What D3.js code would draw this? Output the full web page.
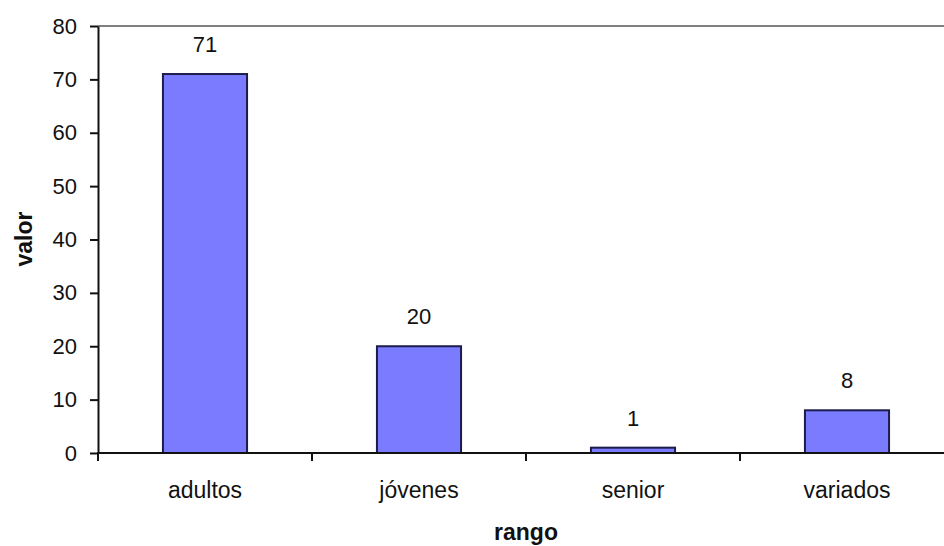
<!DOCTYPE html>
<html>
<head>
<meta charset="utf-8">
<script src="https://cdn.jsdelivr.net/npm/d3@7"></script>
<style>
  html, body { margin: 0; padding: 0; background: #fff; }
  svg { display: block; }
  text { font-family: "Liberation Sans", Arial, sans-serif; fill: #111; }
</style>
</head>
<body>
<svg id="chart" width="944" height="546"></svg>
<script>
const categories = ["adultos", "jóvenes", "senior", "variados"];
const values = [71, 20, 1, 8];
const yTicks = [0, 10, 20, 30, 40, 50, 60, 70, 80];
const xTitle = "rango";
const yTitle = "valor";

const svg = d3.select("#chart");
const mLeft = 98, mRight = 954, mTop = 26, mBottom = 453;

const x = d3.scaleBand().domain(categories).range([mLeft, mRight])
  .paddingInner(0.607).paddingOuter(0.3035);
const y = d3.scaleLinear().domain([0, 80]).range([mBottom, mTop]);

// plot border (gray, top & right)
svg.append("path")
  .attr("d", `M${mLeft},${mTop}H${mRight}V${mBottom}`)
  .attr("fill", "none").attr("stroke", "#808080").attr("stroke-width", 2);

// bars
svg.selectAll("rect.bar").data(values).join("rect")
  .attr("class", "bar")
  .attr("x", (d, i) => x(categories[i]))
  .attr("y", d => y(d))
  .attr("width", x.bandwidth())
  .attr("height", d => y(0) - y(d))
  .attr("fill", "#7b7bff")
  .attr("stroke", "#1c1c4a")
  .attr("stroke-width", 2);

// value labels
svg.selectAll("text.val").data(values).join("text")
  .attr("class", "val")
  .attr("x", (d, i) => x(categories[i]) + x.bandwidth() / 2)
  .attr("y", d => y(d) - 22)
  .attr("text-anchor", "middle")
  .attr("font-size", 22)
  .text(d => d);

// y axis
const yAxis = svg.append("g").attr("transform", `translate(${mLeft},0)`)
  .call(d3.axisLeft(y).tickValues(yTicks).tickSize(8).tickSizeOuter(0).tickPadding(13));
yAxis.selectAll("path, line").attr("stroke", "#111").attr("stroke-width", 2);
yAxis.selectAll("text").attr("font-size", 22).attr("font-family", "Liberation Sans, Arial, sans-serif").attr("fill", "#111");

// x axis line
svg.append("line").attr("x1", mLeft - 1).attr("x2", mRight).attr("y1", mBottom).attr("y2", mBottom)
  .attr("stroke", "#111").attr("stroke-width", 2);

// x ticks at category boundaries
const bounds = categories.map(c => x(c) - x.step() * x.paddingOuter()).concat([mRight]);
svg.selectAll("line.xt").data(bounds).join("line")
  .attr("class", "xt")
  .attr("x1", d => d).attr("x2", d => d)
  .attr("y1", mBottom).attr("y2", mBottom + 8)
  .attr("stroke", "#111").attr("stroke-width", 2);

// category labels
svg.selectAll("text.cat").data(categories).join("text")
  .attr("class", "cat")
  .attr("x", d => x(d) + x.bandwidth() / 2)
  .attr("y", 498)
  .attr("text-anchor", "middle")
  .attr("font-size", 23)
  .text(d => d);

// axis titles
svg.append("text")
  .attr("x", (mLeft + mRight) / 2).attr("y", 540)
  .attr("text-anchor", "middle").attr("font-size", 23).attr("font-weight", "bold")
  .text(xTitle);
svg.append("text")
  .attr("transform", `translate(32,239) rotate(-90)`)
  .attr("text-anchor", "middle").attr("font-size", 23).attr("font-weight", "bold")
  .text(yTitle);
</script>
</body>
</html>
